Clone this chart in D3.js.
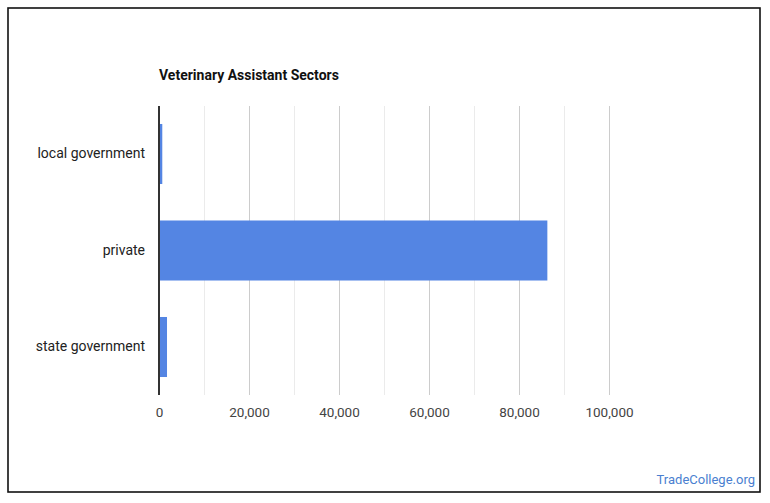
<!DOCTYPE html>
<html>
<head>
<meta charset="utf-8">
<script src="https://cdn.jsdelivr.net/npm/d3@7"></script>
<style>
  html, body { margin: 0; padding: 0; background: #fff; }
  svg { display: block; font-family: Roboto, "Noto Sans", Arial, sans-serif; }
</style>
</head>
<body>
<svg id="chart" width="770" height="503"></svg>
<script>
const title = "Veterinary Assistant Sectors";
const categories = ["local government", "private", "state government"];
const values = [730, 86300, 1780];
const tickValues = [0, 20000, 40000, 60000, 80000, 100000];
const gridValues = [10000, 20000, 30000, 40000, 50000, 60000, 70000, 80000, 90000, 100000];
const credit = "TradeCollege.org";

(function () {
const svg = d3.select("#chart");

svg.append("rect")
  .attr("x", 8).attr("y", 8).attr("width", 752).attr("height", 484)
  .attr("fill", "#fff").attr("stroke", "#111").attr("stroke-width", 1.6);

const pLeft = 159, pRight = 609, pTop = 105.75, pBottom = 395.25;

const x = d3.scaleLinear().domain([0, 100000]).range([pLeft, pRight]);
const y = d3.scaleBand().domain(categories).range([pTop, pBottom]).paddingInner(0.378).paddingOuter(0.189);

// gridlines
svg.append("g").selectAll("line").data(gridValues).join("line")
  .attr("x1", d => x(d)).attr("x2", d => x(d))
  .attr("y1", pTop).attr("y2", pBottom)
  .attr("stroke", d => d % 20000 === 0 ? "#cccccc" : "#ebebeb")
  .attr("stroke-width", 1)
  .attr("shape-rendering", "crispEdges");

// bars
svg.append("g").selectAll("rect").data(values).join("rect")
  .attr("x", x(0))
  .attr("y", (d, i) => y(categories[i]))
  .attr("width", d => x(d) - x(0))
  .attr("height", y.bandwidth())
  .attr("fill", "#5485e3");

// baseline axis
svg.append("line")
  .attr("x1", x(0)).attr("x2", x(0)).attr("y1", pTop).attr("y2", pBottom)
  .attr("stroke", "#333").attr("stroke-width", 1.2)
  .attr("shape-rendering", "crispEdges");

// x axis labels
const xAxis = d3.axisBottom(x).tickValues(tickValues).tickFormat(d3.format(",")).tickSize(0).tickPadding(0);
const gx = svg.append("g").attr("transform", `translate(0, ${pBottom + 12})`).call(xAxis);
gx.select(".domain").remove();
gx.selectAll("text").attr("font-size", 13.5).attr("fill", "#444").attr("font-family", "Roboto, sans-serif").attr("dy", "0.71em");

// y axis labels
const yAxis = d3.axisLeft(y).tickSize(0).tickPadding(14);
const gy = svg.append("g").attr("transform", `translate(${pLeft}, 0)`).call(yAxis);
gy.select(".domain").remove();
gy.selectAll("text").attr("font-size", 14).attr("fill", "#222").attr("font-family", "Roboto, sans-serif");

// title
svg.append("text")
  .attr("x", 159).attr("y", 80)
  .attr("font-size", 14).attr("font-weight", "bold").attr("fill", "#111")
  .text(title);

// credit
svg.append("text")
  .attr("x", 755).attr("y", 484)
  .attr("text-anchor", "end")
  .attr("font-size", 13).attr("fill", "#4a7fd0")
  .text(credit);
})();
</script>
</body>
</html>
